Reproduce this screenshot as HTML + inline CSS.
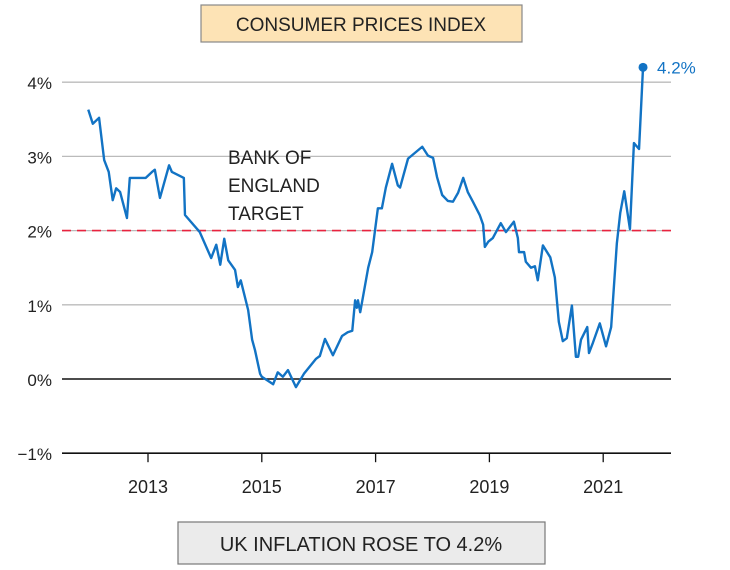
<!DOCTYPE html>
<html><head><meta charset="utf-8"><style>
body{margin:0;background:#fff;width:730px;height:565px;overflow:hidden;font-family:"Liberation Sans",sans-serif}
svg text{font-family:"Liberation Sans",sans-serif}
</style></head><body>
<svg id="chart" width="730" height="565">
<rect x="201" y="5" width="321" height="37" fill="#fde3b5" stroke="#888" stroke-width="1.2"/>
<text x="361" y="31" text-anchor="middle" font-size="19" fill="#222">CONSUMER PRICES INDEX</text>
<rect x="178" y="522" width="367" height="42" fill="#ebebeb" stroke="#777" stroke-width="1.2"/>
<text x="361" y="551" text-anchor="middle" font-size="20" fill="#222">UK INFLATION ROSE TO 4.2%</text>
<g id="grid"></g><g id="series"></g>
<text x="228" y="164" font-size="19" fill="#222"><tspan x="228">BANK OF</tspan><tspan x="228" dy="28">ENGLAND</tspan><tspan x="228" dy="28">TARGET</tspan></text>
</svg>
<script>
const yTicks=[4,3,2,1,0,-1];
const xTicks=[2013,2015,2017,2019,2021];
const target=2;
const dates=[2011.95,2012.03,2012.14,2012.23,2012.31,2012.38,2012.44,2012.51,2012.63,2012.68,2012.96,2013.07,2013.12,2013.21,2013.37,2013.42,2013.63,2013.65,2013.91,2014.11,2014.20,2014.27,2014.34,2014.41,2014.53,2014.58,2014.63,2014.76,2014.83,2014.88,2014.97,2015.00,2015.20,2015.28,2015.37,2015.46,2015.60,2015.74,2015.95,2016.02,2016.11,2016.25,2016.41,2016.51,2016.59,2016.64,2016.67,2016.69,2016.73,2016.87,2016.94,2017.04,2017.11,2017.18,2017.29,2017.39,2017.43,2017.57,2017.82,2017.92,2018.01,2018.08,2018.17,2018.27,2018.36,2018.45,2018.54,2018.62,2018.71,2018.83,2018.89,2018.92,2018.98,2019.06,2019.20,2019.29,2019.43,2019.50,2019.52,2019.61,2019.64,2019.73,2019.80,2019.85,2019.94,2020.07,2020.15,2020.22,2020.29,2020.36,2020.45,2020.52,2020.56,2020.61,2020.72,2020.75,2020.82,2020.94,2021.05,2021.14,2021.24,2021.30,2021.37,2021.47,2021.54,2021.63,2021.70];
const cpi=[3.63,3.44,3.52,2.95,2.79,2.41,2.57,2.52,2.17,2.71,2.71,2.79,2.82,2.44,2.88,2.79,2.71,2.21,1.98,1.63,1.81,1.54,1.89,1.60,1.47,1.24,1.33,0.93,0.53,0.39,0.07,0.03,-0.07,0.09,0.03,0.12,-0.11,0.07,0.27,0.31,0.54,0.32,0.58,0.63,0.65,1.06,0.96,1.06,0.90,1.50,1.71,2.30,2.30,2.58,2.90,2.61,2.58,2.97,3.13,3.01,2.98,2.72,2.48,2.40,2.39,2.51,2.71,2.52,2.39,2.21,2.08,1.78,1.85,1.90,2.10,1.98,2.12,1.90,1.71,1.71,1.58,1.50,1.52,1.33,1.80,1.64,1.37,0.77,0.51,0.55,0.99,0.30,0.30,0.53,0.70,0.35,0.49,0.75,0.44,0.70,1.83,2.24,2.53,2.02,3.18,3.10,4.2];
const NS='http://www.w3.org/2000/svg';
const X=v=>148+(v-2013)*56.9;
const Y=v=>379-v*74.2;
const L=62,R=671;
function mk(tag,attrs,parent){const e=document.createElementNS(NS,tag);for(const k in attrs)e.setAttribute(k,attrs[k]);parent.appendChild(e);return e;}
const grid=document.getElementById('grid');
yTicks.forEach(t=>{
  const dark=(t===0||t===-1);
  const ln=mk('line',{x1:L,x2:R,y1:Y(t),y2:Y(t),stroke:dark?'#111':'#bbb','stroke-width':dark?1.6:1.3},grid);
  
  
  const tx=mk('text',{x:52,y:Y(t)+7,'text-anchor':'end','font-size':17,fill:'#222'},grid);
  tx.textContent=(t<0?'\u2212'+(-t):t)+'%';
  
  
});
xTicks.forEach(t=>{
  const tk=mk('line',{x1:X(t),x2:X(t),y1:Y(-1),y2:Y(-1)+9,stroke:'#111','stroke-width':1.3},grid);
  
  
  const tx=mk('text',{x:X(t),y:493,'text-anchor':'middle','font-size':18,fill:'#222'},grid);
  tx.textContent=t;
  
  
});
const s=document.getElementById('series');
const tl=mk('line',{x1:L,x2:R,y1:Y(target),y2:Y(target),stroke:'#e8233f','stroke-width':1.6,'stroke-dasharray':'9 6'},s);


const p=mk('polyline',{points:dates.map((d,i)=>X(d)+','+Y(cpi[i])).join(' '),fill:'none',stroke:'#1273c4','stroke-width':2.4,'stroke-linejoin':'round'},s);


const n=dates.length-1;
const dot=mk('circle',{cx:X(dates[n]),cy:Y(cpi[n]),r:4.5,fill:'#1273c4'},s);


const lab=mk('text',{x:X(dates[n])+14,y:Y(cpi[n])+6,'font-size':17,fill:'#1273c4'},s);
lab.textContent=cpi[n]+'%';


</script>
</body></html>
